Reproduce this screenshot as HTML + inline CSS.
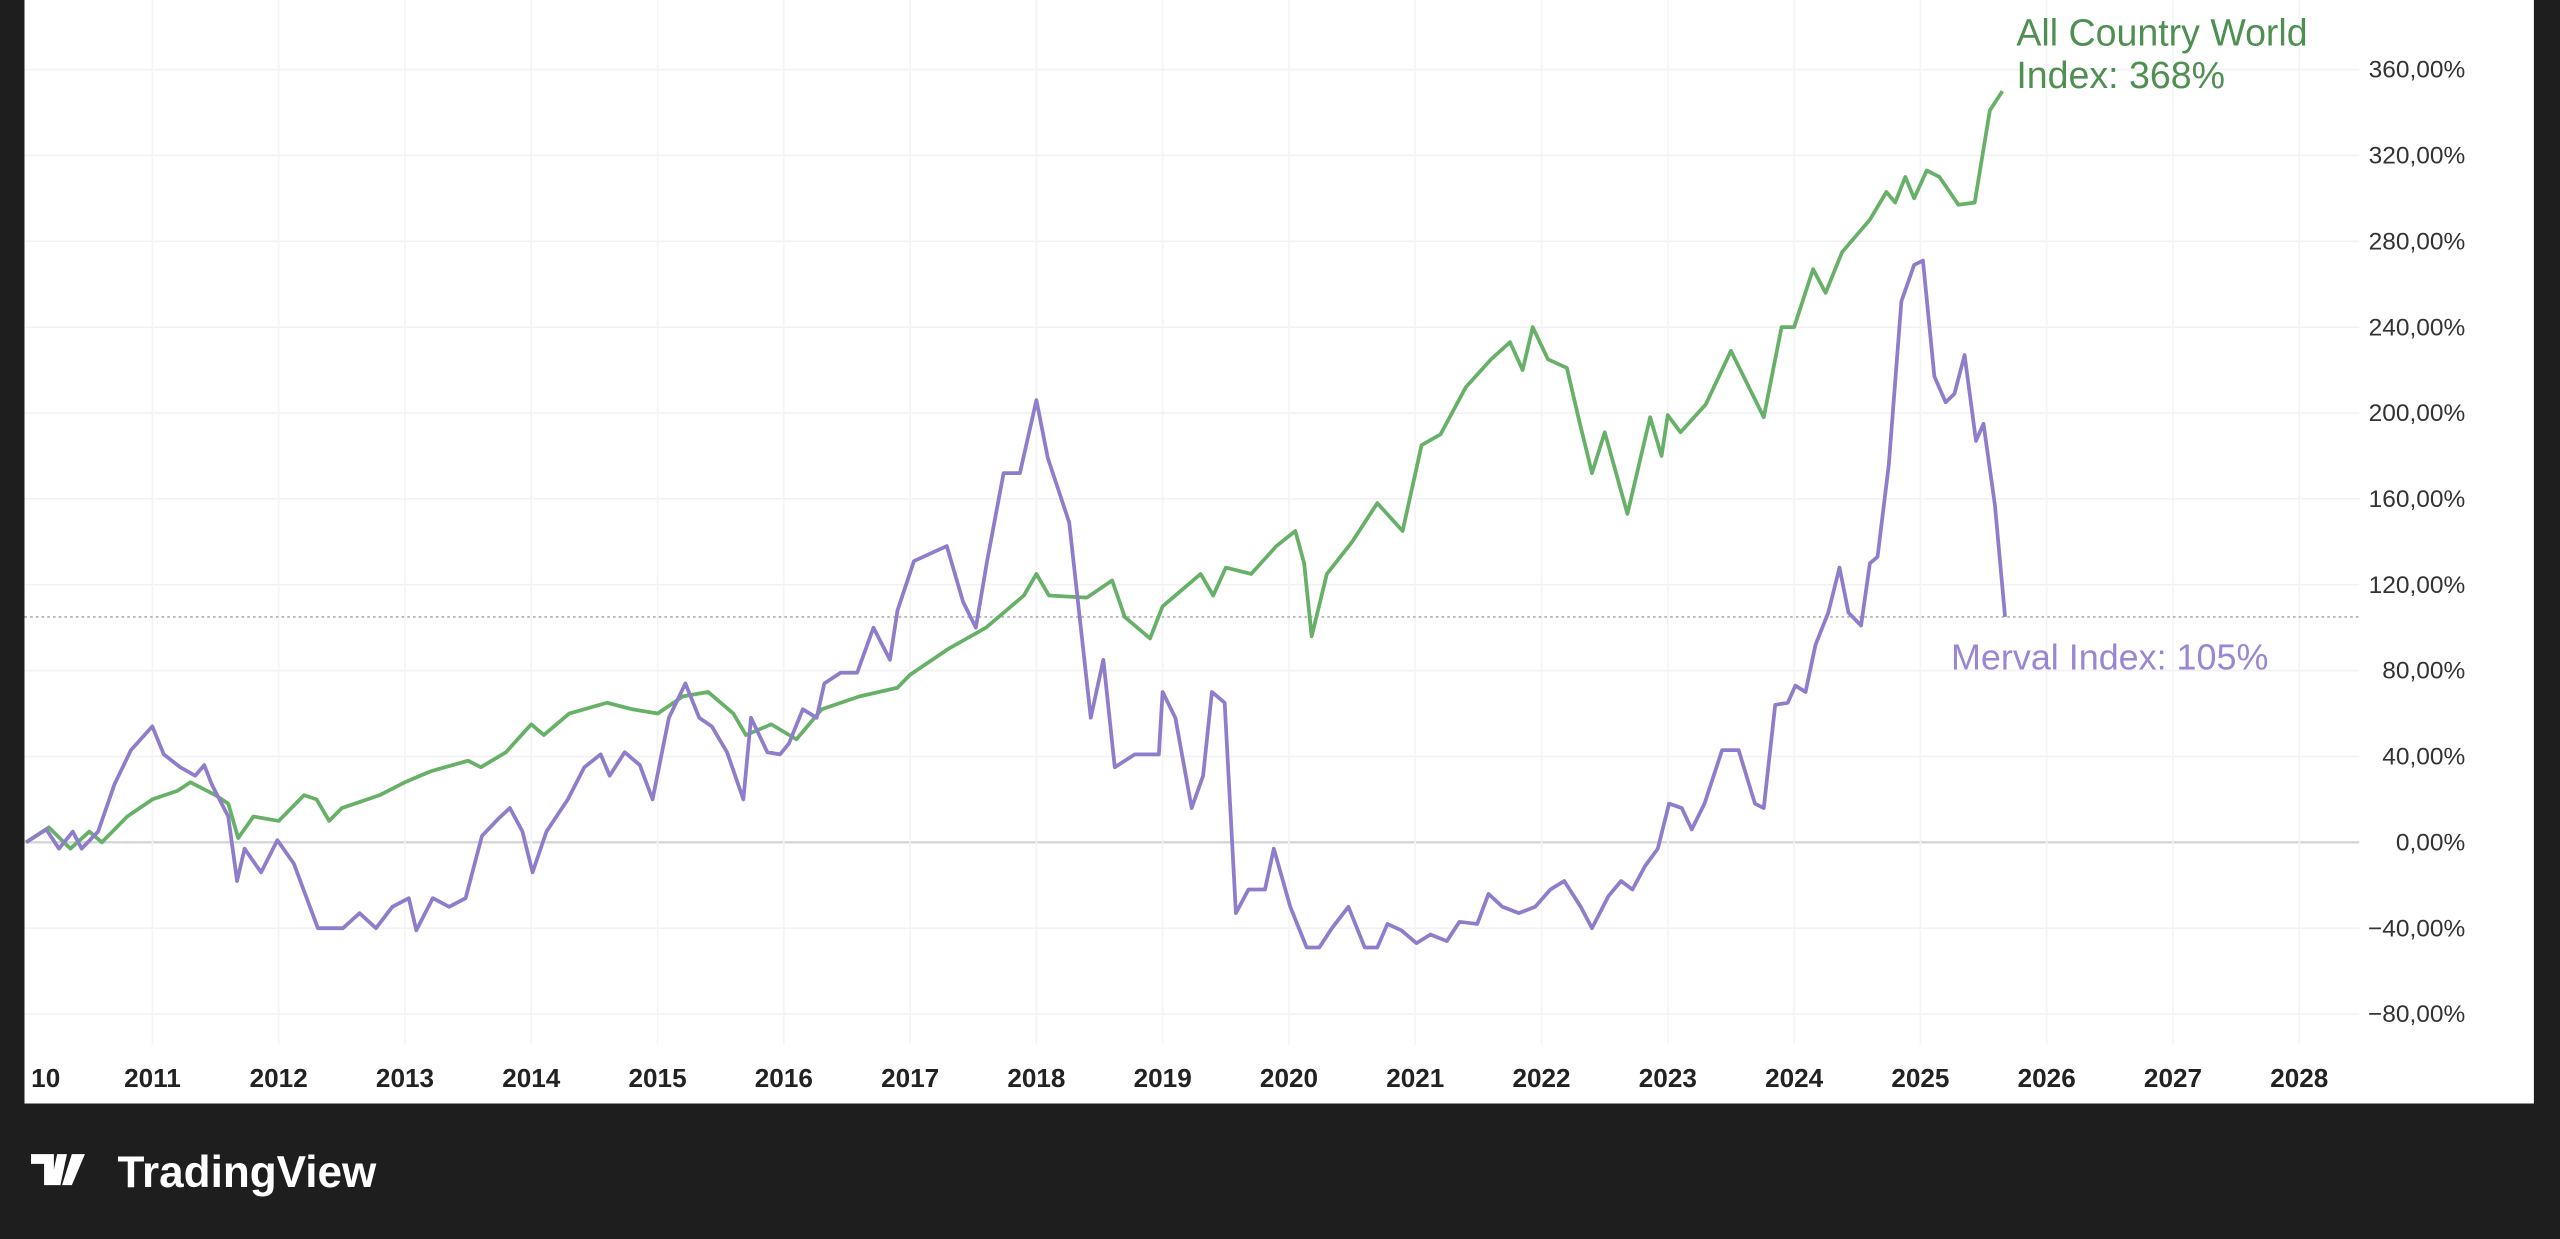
<!DOCTYPE html>
<html><head><meta charset="utf-8"><style>
html,body{margin:0;padding:0;background:#1e1e1e;width:2560px;height:1239px;overflow:hidden}
svg{display:block}
text{font-family:"Liberation Sans",sans-serif}
</style></head><body>
<svg id="chart" width="2560" height="1239" viewBox="0 0 1568 759" preserveAspectRatio="none" xmlns="http://www.w3.org/2000/svg">
<rect x="0" y="0" width="1568" height="759" fill="#1e1e1e"/>
<rect x="15" y="0" width="1537" height="676" fill="#ffffff"/>
<g id="grid"></g>
<g id="series"></g>
<g id="labels"></g>
<text x="1235" y="28" font-size="23" fill="#4f8f52">All Country World</text>
<text x="1235" y="54" font-size="23" fill="#4f8f52">Index: 368%</text>
<text x="1195" y="410" font-size="22" fill="#9a86d2">Merval Index: 105%</text>
<g>
<path d="M19 707h14v19h-6v-13h-8z M35 707h6l-4 19h-6z M44 707h8l-8 19h-6z" fill="#ffffff"/>
<text x="72" y="727" font-size="27" font-weight="bold" fill="#ffffff">TradingView</text>
</g>
</svg>
<script>
const acwiT=[2010,2010.18,2010.35,2010.5,2010.6,2010.8,2011,2011.2,2011.3,2011.5,2011.6,2011.68,2011.8,2012,2012.2,2012.3,2012.4,2012.5,2012.8,2013,2013.2,2013.5,2013.6,2013.8,2014,2014.1,2014.3,2014.6,2014.8,2015,2015.2,2015.4,2015.6,2015.7,2015.9,2016.1,2016.3,2016.6,2016.9,2017,2017.3,2017.6,2017.9,2018,2018.1,2018.4,2018.6,2018.7,2018.9,2019,2019.3,2019.4,2019.5,2019.7,2019.9,2020.05,2020.12,2020.18,2020.3,2020.5,2020.7,2020.9,2021.05,2021.2,2021.4,2021.6,2021.75,2021.85,2021.93,2022.05,2022.2,2022.3,2022.4,2022.5,2022.68,2022.86,2022.95,2023.0,2023.1,2023.3,2023.5,2023.76,2023.9,2024.0,2024.15,2024.25,2024.38,2024.6,2024.73,2024.8,2024.88,2024.95,2025.05,2025.15,2025.3,2025.43,2025.55,2025.65];
const acwiV=[0,7,-3,5,0,12,20,24,28,22,18,2,12,10,22,20,10,16,22,28,33,38,35,42,55,50,60,65,62,60,68,70,60,50,55,48,62,68,72,78,90,100,115,125,115,114,122,105,95,110,125,115,128,125,138,145,130,96,125,140,158,145,185,190,212,225,233,220,240,225,221,196,172,191,153,198,180,199,191,204,229,198,240,240,267,256,275,290,303,298,310,300,313,310,297,298,341,350,368];
const mervalT=[2010.00,2010.16,2010.26,2010.37,2010.44,2010.57,2010.70,2010.83,2011.00,2011.09,2011.22,2011.34,2011.41,2011.47,2011.60,2011.67,2011.73,2011.86,2011.99,2012.12,2012.31,2012.51,2012.64,2012.77,2012.90,2013.03,2013.09,2013.22,2013.35,2013.48,2013.61,2013.74,2013.83,2013.93,2014.01,2014.12,2014.29,2014.42,2014.55,2014.62,2014.74,2014.86,2014.96,2015.09,2015.22,2015.33,2015.43,2015.55,2015.68,2015.74,2015.87,2015.97,2016.04,2016.15,2016.26,2016.32,2016.45,2016.58,2016.71,2016.84,2016.90,2017.03,2017.29,2017.42,2017.52,2017.61,2017.74,2017.87,2018.00,2018.09,2018.26,2018.43,2018.53,2018.62,2018.78,2018.97,2019.00,2019.10,2019.23,2019.32,2019.39,2019.49,2019.58,2019.68,2019.81,2019.88,2020.01,2020.14,2020.24,2020.34,2020.47,2020.60,2020.70,2020.78,2020.89,2021.01,2021.12,2021.25,2021.35,2021.49,2021.58,2021.69,2021.82,2021.95,2022.07,2022.18,2022.31,2022.40,2022.53,2022.63,2022.72,2022.82,2022.92,2023.01,2023.11,2023.19,2023.29,2023.43,2023.56,2023.69,2023.76,2023.85,2023.95,2024.01,2024.09,2024.17,2024.27,2024.36,2024.43,2024.53,2024.60,2024.66,2024.75,2024.85,2024.95,2025.02,2025.11,2025.20,2025.27,2025.35,2025.44,2025.50,2025.59,2025.67];
const mervalV=[0,6,-3,5,-3,5,27,43,54,41,35,31,36,27,12,-18,-3,-14,1,-10,-40,-40,-33,-40,-30,-26,-41,-26,-30,-26,3,11,16,5,-14,5,20,35,41,31,42,36,20,58,74,58,54,42,20,58,42,41,46,62,58,74,79,79,100,85,108,131,138,112,100,131,172,172,206,179,149,58,85,35,41,41,70,58,16,31,70,65,-33,-22,-22,-3,-30,-49,-49,-40,-30,-49,-49,-38,-41,-47,-43,-46,-37,-38,-24,-30,-33,-30,-22,-18,-30,-40,-25,-18,-22,-11,-3,18,16,6,18,43,43,18,16,64,65,73,70,92,107,128,107,101,130,133,176,252,269,271,217,205,209,227,187,195,157,105];
const yTicks=[360,320,280,240,200,160,120,80,40,0,-40,-80];
const xTicks=[2011,2012,2013,2014,2015,2016,2017,2018,2019,2020,2021,2022,2023,2024,2025,2026,2027,2028];
const X=t=>16+(t-2010)*77.35;
const Y=v=>516-v*52.6/40;
const NS='http://www.w3.org/2000/svg';
const grid=document.getElementById('grid'),series=document.getElementById('series'),labels=document.getElementById('labels');
function mk(tag,attrs,parent){const e=document.createElementNS(NS,tag);for(const k in attrs)e.setAttribute(k,attrs[k]);parent.appendChild(e);return e;}
yTicks.forEach(v=>{
 const l=mk('line',{x1:15,x2:1445,y1:Y(v),y2:Y(v),stroke:v===0?'#d5d5d8':'#f2f2f4','stroke-width':v===0?1.5:1},grid);
 
 
 const t=mk('text',{x:1510,y:Y(v)+5,'text-anchor':'end','font-size':15,fill:'#333'},labels);
 t.textContent=(v<0?'\u2212':'')+Math.abs(v)+',00%';
 
 
});
xTicks.forEach(yr=>{
 const l=mk('line',{x1:X(yr),x2:X(yr),y1:0,y2:640,stroke:'#f4f4f6','stroke-width':1},grid);
 
 
 const t=mk('text',{x:X(yr),y:666,'text-anchor':'middle','font-size':16,'font-weight':'bold',fill:'#222'},labels);
 t.textContent=yr;
 
 
});
const t0=mk('text',{x:X(2010)+12,y:666,'text-anchor':'middle','font-size':16,'font-weight':'bold',fill:'#222'},labels);
t0.textContent='10';


const last=mervalV[mervalV.length-1];
const pl=mk('line',{x1:15,x2:1445,y1:Y(last),y2:Y(last),stroke:'#aaa','stroke-width':1,'stroke-dasharray':'1.5 2'},grid);


function line(ts,vs,color,name){
 const n=Math.min(ts.length,vs.length);
 const d=ts.slice(0,n).map((t,i)=>(i?'L':'M')+X(t).toFixed(1)+' '+Y(vs[i]).toFixed(1)).join(' ');
 const p=mk('path',{d:d,fill:'none',stroke:color,'stroke-width':2.3,'stroke-linejoin':'round'},series);
 
 
}
line(acwiT,acwiV,'#67b067','acwi-line');
line(mervalT,mervalV,'#8f7dcc','merval-line');
</script>
</body></html>
